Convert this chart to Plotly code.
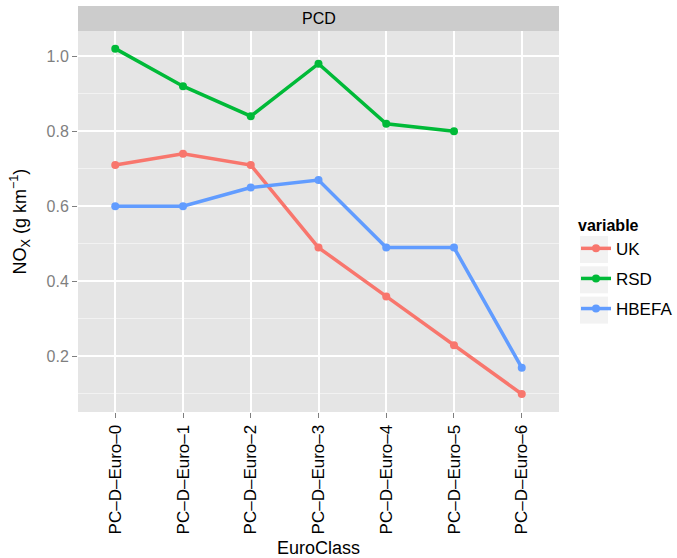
import plotly.graph_objects as go

categories = ["PC–D–Euro–0", "PC–D–Euro–1", "PC–D–Euro–2", "PC–D–Euro–3",
              "PC–D–Euro–4", "PC–D–Euro–5", "PC–D–Euro–6"]
uk = [0.71, 0.74, 0.71, 0.49, 0.36, 0.23, 0.10]
rsd = [1.02, 0.92, 0.84, 0.98, 0.82, 0.80, None]
hbefa = [0.60, 0.60, 0.65, 0.67, 0.49, 0.49, 0.17]
series = [("UK", uk, "#F8766D"), ("RSD", rsd, "#00BA38"), ("HBEFA", hbefa, "#619CFF")]

W, H = 677, 558
L, R, T, B = 78, 118, 31, 146
ph = H - T - B
pw = W - L - R

fig = go.Figure()
for name, vals, col in series:
    fig.add_trace(go.Scatter(
        x=list(range(len(categories))), y=vals, name=name, mode="lines+markers",
        line=dict(color=col, width=3.5), marker=dict(color=col, size=8),
        legendgroup=name, connectgaps=False))

font = "Liberation Sans, Arial, sans-serif"
shapes = []
# facet strip
shapes.append(dict(type="rect", xref="paper", yref="paper", x0=0, x1=1, y0=1,
                   y1=1 + 25 / ph, fillcolor="#CCCCCC", line=dict(width=0), layer="below"))
# legend key backgrounds
for i in range(3):
    y_top = 236 + i * 30.3
    shapes.append(dict(type="rect", xref="paper", yref="paper",
                       x0=(580 - L) / pw, x1=(608 - L) / pw,
                       y0=1 - (y_top + 27 - T) / ph, y1=1 - (y_top - T) / ph,
                       fillcolor="#F2F2F2", line=dict(width=0), layer="below"))

fig.update_layout(
    width=W, height=H, margin=dict(l=L, r=R, t=T, b=B, autoexpand=False),
    paper_bgcolor="white", plot_bgcolor="#E5E5E5",
    font=dict(family=font, size=16, color="black"),
    shapes=shapes,
    showlegend=True,
    legend=dict(title=dict(text="<b>variable</b>", font=dict(size=16)),
                x=(576 - L) / pw, xanchor="left", y=1 - (210 - T) / ph, yanchor="top",
                bgcolor="rgba(0,0,0,0)", font=dict(size=17),
                traceorder="grouped", tracegroupgap=5, itemwidth=30),
    annotations=[
        dict(text="PCD", xref="paper", yref="paper", x=0.5, y=1 + 12.5 / ph,
             showarrow=False, font=dict(size=16, color="black"), yanchor="middle"),
        dict(text="EuroClass", xref="paper", yref="paper", x=0.5, y=-(548 - 412) / ph,
             showarrow=False, font=dict(size=18, color="black"), yanchor="middle"),
        dict(text="NO<sub>X</sub> (g km<sup>−1</sup>)", xref="paper", yref="paper",
             x=-(78 - 20) / pw, y=0.5, textangle=-90, showarrow=False,
             font=dict(size=18, color="black"), xanchor="center", yanchor="middle"),
    ],
)
fig.update_xaxes(
    range=[-0.55, 6.55], tickmode="array", tickvals=list(range(len(categories))),
    ticktext=categories, tickangle=-90, showgrid=True, gridcolor="white", gridwidth=1.5,
    zeroline=False, ticks="outside", ticklen=5, tickcolor="#7F7F7F", tickwidth=1,
    tickfont=dict(size=17, color="black", family=font), showline=False, automargin=False)
fig.update_yaxes(
    range=[0.052, 1.067], tickmode="array", tickvals=[0.2, 0.4, 0.6, 0.8, 1.0],
    ticktext=["0.2", "0.4", "0.6", "0.8", "1.0"], showgrid=True, gridcolor="white",
    gridwidth=1.5, zeroline=False, ticks="outside", ticklen=5, tickcolor="#7F7F7F",
    tickfont=dict(size=16, color="#7F7F7F", family=font), automargin=False,
    minor=dict(tickvals=[0.1, 0.3, 0.5, 0.7, 0.9], showgrid=True, gridcolor="#F2F2F2",
               gridwidth=0.8, ticks=""))

fig.write_html("out.html", config={"displayModeBar": False},
               post_script="document.body.style.margin='0';document.body.style.padding='0';")
